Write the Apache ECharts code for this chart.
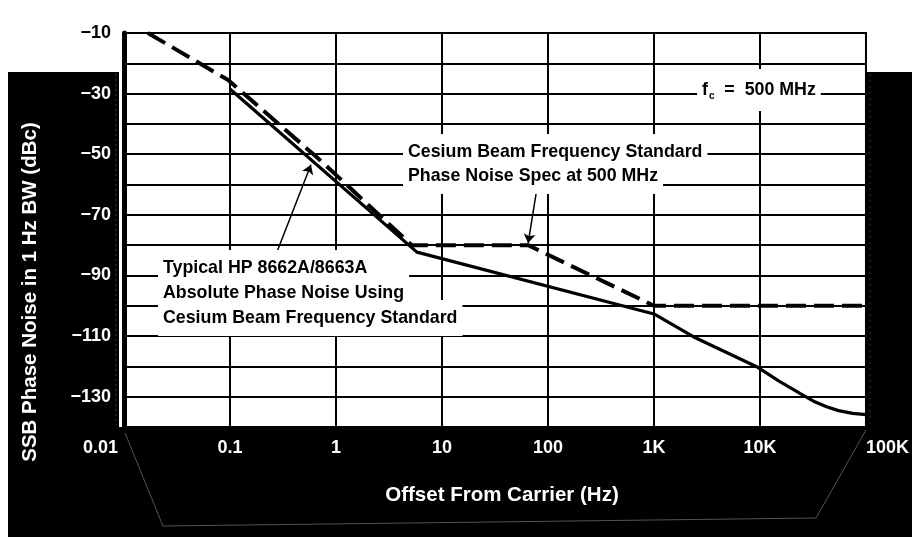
<!DOCTYPE html>
<html>
<head>
<meta charset="utf-8">
<script src="https://cdn.jsdelivr.net/npm/echarts@6/dist/echarts.min.js"></script>
<style>
  html, body { margin: 0; padding: 0; background: #fff; }
  #chart { width: 912px; height: 537px; }
</style>
</head>
<body>
<div id="chart"></div>
<script>
// tick labels
const xTickLabels = ['0.01', '0.1', '1', '10', '100', '1K', '10K', '100K'];
const yLabelValues = [-10, -30, -50, -70, -90, -110, -130];

// Cesium beam frequency standard spec (dashed) [Hz, dBc]
const cesiumSpec = [
  [0.0168, -10], [0.096, -25.5], [0.66, -51], [5.2, -80],
  [65, -80], [1000, -100], [100000, -100]
];
// typical HP 8662A/8663A (solid) [Hz, dBc]
const typicalHP = [
  [0.1, -28.5], [5.8, -82.3], [1000, -102.7], [2350, -110.2],
  [9300, -120.1], [15000, -124.8], [23800, -128.9], [32000, -131.5],
  [42600, -133.3], [55000, -134.6], [75000, -135.5], [100000, -135.9]
];
// arrows: [from, to]
const arrowHP = [[0.2657, -83.9], [0.58, -53.5]];
const arrowSpec = [[78.7, -61.2], [65, -79.3]];

const hpNote = ['Typical HP 8662A/8663A', 'Absolute Phase Noise Using', 'Cesium Beam Frequency Standard'];
const specNote = ['Cesium Beam Frequency Standard', 'Phase Noise Spec at 500 MHz'];

const FONT = '"Liberation Sans", Arial, Helvetica, sans-serif';

var myChart = echarts.init(document.getElementById('chart'));

// white knock-out box behind the text, then the text itself on top
function noteText (list, txt, x, y) {
  list.push({
    type: 'text', z: 40, x: x, y: y,
    style: {
      text: txt, fill: 'rgba(0,0,0,0)', font: 'bold 17.8px ' + FONT,
      align: 'left', verticalAlign: 'middle',
      backgroundColor: '#fff', padding: [9, 5, 9, 5]
    }
  });
  list.push({
    type: 'text', z: 50, x: x, y: y,
    style: {
      text: txt, fill: '#000', font: 'bold 17.8px ' + FONT,
      align: 'left', verticalAlign: 'middle', padding: [9, 5, 9, 5]
    }
  });
}

let graphics = [
  // black panels
  { type: 'rect', z: -10, shape: { x: 8, y: 72, width: 111, height: 465 }, style: { fill: '#000' } },
  { type: 'rect', z: -10, shape: { x: 8, y: 427, width: 904, height: 110 }, style: { fill: '#000' } },
  { type: 'rect', z: -10, shape: { x: 866, y: 72, width: 46, height: 465 }, style: { fill: '#000' } },
  // faint outline in the black
  { type: 'polyline', z: -5, shape: { points: [[125, 433], [163, 526], [816, 518], [866, 430]] },
    style: { stroke: '#777', lineWidth: 1, fill: null, opacity: 0.7 } },
  { type: 'line', z: -5, shape: { x1: 116, y1: 74, x2: 116, y2: 425 },
    style: { stroke: '#666', lineWidth: 1, lineDash: [2, 3], opacity: 0.6 } },
  { type: 'line', z: -5, shape: { x1: 870, y1: 74, x2: 870, y2: 425 },
    style: { stroke: '#666', lineWidth: 1, lineDash: [2, 4], opacity: 0.5 } },
  // y axis name
  { type: 'text', z: 20, x: 30, y: 292, rotation: Math.PI / 2,
    style: { text: 'SSB Phase Noise in 1 Hz BW (dBc)', fill: '#fff', font: 'bold 20.5px ' + FONT,
      align: 'center', verticalAlign: 'middle' } },
  // fc label
  { type: 'text', z: 50, x: 697, y: 90,
    style: {
      text: '{a|f}{b|c}{a|  =  500 MHz}',
      align: 'left', verticalAlign: 'middle',
      backgroundColor: '#fff', padding: [10, 5, 10, 5],
      rich: {
        a: { font: 'bold 17.8px ' + FONT, fill: '#000', verticalAlign: 'middle' },
        b: { font: 'bold 10px ' + FONT, fill: '#000', padding: [12, 0, 0, 1] }
      }
    } }
];
specNote.forEach(function (t, i) { noteText(graphics, t, 403, 152 + i * 24); });
hpNote.forEach(function (t, i) { noteText(graphics, t, 158, 268 + i * 25); });

let option = {
  animation: false,
  backgroundColor: '#fff',
  grid: {
    left: 124, right: 46, top: 33, bottom: 110,
    show: true, backgroundColor: '#fff', borderColor: '#000', borderWidth: 2
  },
  xAxis: {
    type: 'log',
    logBase: 10,
    min: 0.01,
    max: 100000,
    axisLine: { show: false },
    axisTick: { show: false },
    splitLine: { show: true, lineStyle: { color: '#000', width: 2 } },
    axisLabel: {
      color: '#fff',
      fontSize: 18,
      fontWeight: 'bold',
      fontFamily: FONT,
      margin: 12,
      alignMinLabel: 'right',
      alignMaxLabel: 'left',
      formatter: function (v) {
        let i = Math.round(Math.log10(v)) + 2;
        return i === 0 ? '{m|' + xTickLabels[i] + '}' : xTickLabels[i];
      },
      rich: {
        m: { color: '#fff', fontSize: 18, fontWeight: 'bold', fontFamily: FONT, padding: [0, 6, 0, 0] }
      }
    },
    name: 'Offset From Carrier (Hz)',
    nameLocation: 'middle',
    nameGap: 58,
    nameTextStyle: { color: '#fff', fontSize: 20.5, fontWeight: 'bold', fontFamily: FONT, padding: [0, 0, 0, 14] }
  },
  yAxis: {
    type: 'value',
    min: -140,
    max: -10,
    interval: 10,
    axisLine: { show: true, lineStyle: { color: '#000', width: 5 } },
    axisTick: { show: false },
    splitLine: { show: true, lineStyle: { color: '#000', width: 2 } },
    axisLabel: {
      fontSize: 18,
      fontWeight: 'bold',
      fontFamily: FONT,
      margin: 13,
      color: function (v) { return Number(v) === -10 ? '#000' : '#fff'; },
      formatter: function (v) {
        return yLabelValues.indexOf(v) >= 0 ? '\u2212' + Math.abs(v) : '';
      }
    }
  },
  series: [
    {
      type: 'line',
      name: 'Cesium Beam Frequency Standard Spec',
      data: cesiumSpec,
      symbol: 'none',
      z: 3,
      lineStyle: { color: '#000', width: 4, type: [20, 8] }
    },
    {
      type: 'line',
      name: 'Typical HP 8662A/8663A',
      data: typicalHP,
      symbol: 'none',
      z: 3,
      lineStyle: { color: '#000', width: 3.2 },
      markLine: {
        silent: true,
        symbol: ['none', 'arrow'],
        symbolSize: 9,
        label: { show: false },
        lineStyle: { color: '#000', width: 1.5, type: 'solid' },
        data: [
          [{ coord: arrowHP[0] }, { coord: arrowHP[1] }],
          [{ coord: arrowSpec[0] }, { coord: arrowSpec[1] }]
        ]
      }
    }
  ],
  graphic: graphics
};
myChart.setOption(option);
</script>
</body>
</html>
